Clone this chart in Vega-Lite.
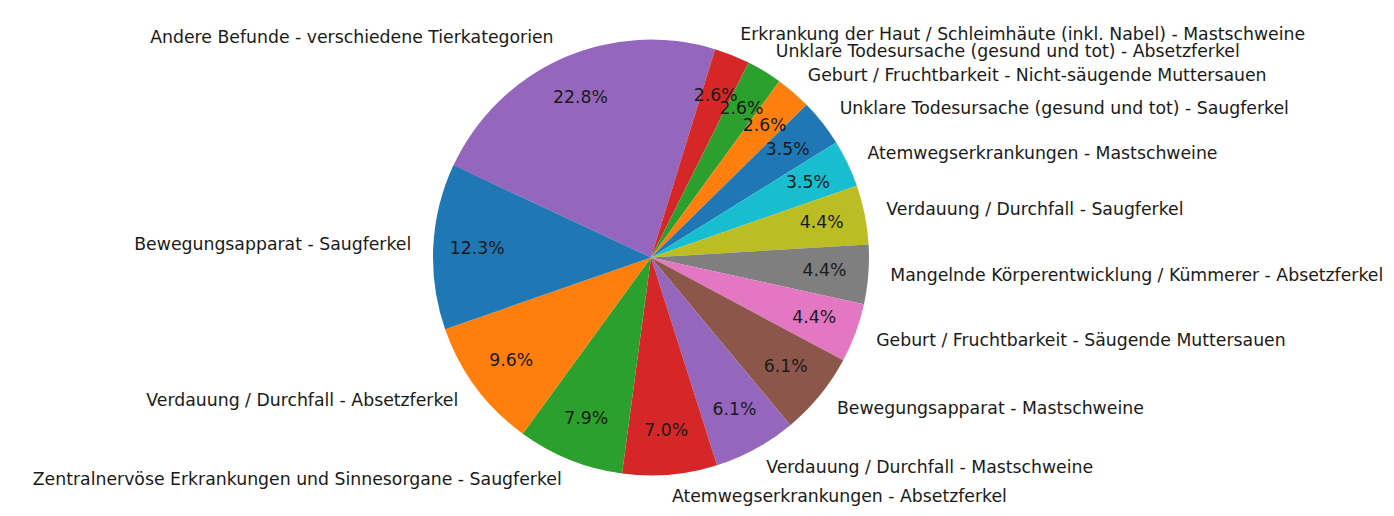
{
  "$schema": "https://vega.github.io/schema/vega-lite/v6.json",
  "width": 1286,
  "height": 495,
  "autosize": {"type": "none"},
  "padding": {"left": 8, "top": 10, "right": 100, "bottom": 11},
  "background": "white",
  "view": {"stroke": null},
  "data": {
    "values": [
      {"idx": 1, "category": "Andere Befunde - verschiedene Tierkategorien", "count": 26},
      {"idx": 2, "category": "Erkrankung der Haut / Schleimhäute (inkl. Nabel) - Mastschweine", "count": 3},
      {"idx": 3, "category": "Unklare Todesursache (gesund und tot) - Absetzferkel", "count": 3},
      {"idx": 4, "category": "Geburt / Fruchtbarkeit - Nicht-säugende Muttersauen", "count": 3},
      {"idx": 5, "category": "Unklare Todesursache (gesund und tot) - Saugferkel", "count": 4},
      {"idx": 6, "category": "Atemwegserkrankungen - Mastschweine", "count": 4},
      {"idx": 7, "category": "Verdauung / Durchfall - Saugferkel", "count": 5},
      {"idx": 8, "category": "Mangelnde Körperentwicklung / Kümmerer - Absetzferkel", "count": 5},
      {"idx": 9, "category": "Geburt / Fruchtbarkeit - Säugende Muttersauen", "count": 5},
      {"idx": 10, "category": "Bewegungsapparat - Mastschweine", "count": 7},
      {"idx": 11, "category": "Verdauung / Durchfall - Mastschweine", "count": 7},
      {"idx": 12, "category": "Atemwegserkrankungen - Absetzferkel", "count": 8},
      {"idx": 13, "category": "Zentralnervöse Erkrankungen und Sinnesorgane - Saugferkel", "count": 9},
      {"idx": 14, "category": "Verdauung / Durchfall - Absetzferkel", "count": 11},
      {"idx": 15, "category": "Bewegungsapparat - Saugferkel", "count": 14}
    ]
  },
  "transform": [
    {"joinaggregate": [{"op": "sum", "field": "count", "as": "total"}]},
    {"window": [{"op": "sum", "field": "count", "as": "cum"}], "sort": [{"field": "idx", "order": "ascending"}], "frame": [null, 0]},
    {"calculate": "datum.count / datum.total", "as": "share"}
  ],
  "encoding": {
    "theta": {"field": "count", "type": "quantitative", "stack": true, "scale": {"range": [-1.1345, 5.1487]}},
    "order": {"field": "idx", "type": "quantitative", "sort": "ascending"}
  },
  "layer": [
    {
      "mark": {"type": "arc", "outerRadius": 218, "stroke": null},
      "encoding": {
        "color": {
          "field": "idx",
          "type": "nominal",
          "legend": null,
          "scale": {
            "domain": [1,2,3,4,5,6,7,8,9,10,11,12,13,14,15],
            "range": ["#9467bd","#d62728","#2ca02c","#ff7f0e","#1f77b4","#17becf","#bcbd22","#7f7f7f","#e377c2","#8c564b","#9467bd","#d62728","#2ca02c","#ff7f0e","#1f77b4"]
          }
        }
      }
    },
    {
      "mark": {"type": "text", "radius": 174, "font": "DejaVu Sans", "fontSize": 17.3, "color": "#1a1a1a", "align": "center", "baseline": "middle"},
      "encoding": {
        "text": {"field": "share", "type": "quantitative", "format": ".1%"}
      }
    },
    {
      "mark": {
        "type": "text",
        "radius": 240,
        "font": "DejaVu Sans",
        "fontSize": 17.3,
        "color": "#1a1a1a",
        "baseline": "middle",
        "align": {"expr": "sin(-1.1345 + 2 * PI * (datum.cum - datum.count / 2) / datum.total) > 0 ? 'left' : 'right'"}
      },
      "encoding": {
        "text": {"field": "category", "type": "nominal"}
      }
    }
  ]
}
